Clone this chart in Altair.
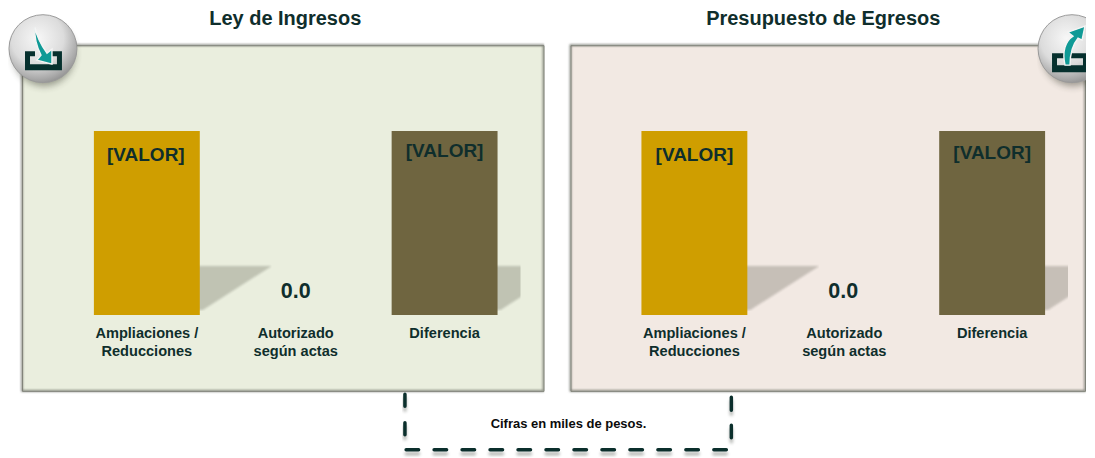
import base64
import altair as alt

categories = ["Ampliaciones / Reducciones", "Autorizado según actas", "Diferencia"]
axis_lines = ["Ampliaciones /|Reducciones", "Autorizado|según actas", "Diferencia"]
bar_values = [100, 0, 100]
value_labels = ["[VALOR]", "0.0", "[VALOR]"]
bar_colors = ["#CF9E00", "#CF9E00", "#6F6540"]
panel_titles = ["Ley de Ingresos", "Presupuesto de Egresos"]
footnote = "Cifras en miles de pesos."

INK = "#0F2E2C"
FONT = "Liberation Sans"
H = 346
Y_SCALE = alt.Scale(domain=[-41.3, 146.7], nice=False, zero=False)


def uri(svg):
    return "data:image/svg+xml;base64," + base64.b64encode(svg.encode()).decode()


def medallion(up, crop_w=90):
    if up:
        arrow = "M28 57 C25 44 28 33 36 28 L31 24 L48 18 L45 32 L41 30 C36 36 33 45 33 57 Z"
        tray = '<path d="M15 45 H51 V64 H15 Z M20 50 V57 H46 V50 Z" fill-rule="evenodd" fill="#06302E"/>'
    else:
        arrow = "M27 19 C26 30 29 39 33 47 L29 52 L44 56 L44 41 L39 45 C34 38 29 30 27 19 Z"
        tray = '<path d="M17 43 H27 V48 H22 V56 H49 V48 H44 V43 H54 V62 H17 Z" fill="#06302E"/>'
    return uri(f'''<svg xmlns="http://www.w3.org/2000/svg" width="{crop_w}" height="90" viewBox="0 0 {crop_w} 90">
<defs><radialGradient id="g" cx="0.42" cy="0.35" r="0.7"><stop offset="0" stop-color="#f7f7f7"/>
<stop offset="0.55" stop-color="#dcdcdc"/><stop offset="0.85" stop-color="#a9a9a9"/><stop offset="1" stop-color="#8c8c8c"/></radialGradient>
<filter id="b" x="-30%" y="-30%" width="160%" height="160%"><feGaussianBlur stdDeviation="3.5"/></filter></defs>
<ellipse cx="36" cy="46" rx="31" ry="32" fill="#34382c" opacity="0.45" filter="url(#b)"/>
<circle cx="35" cy="40.5" r="34" fill="url(#g)" stroke="#9a9a9a" stroke-width="1"/>
{tray}
<path d="{arrow}" fill="#109A96" stroke="#f4f4f4" stroke-width="1.4"/></svg>''')


def shadow(crop_w):
    return uri(f'''<svg xmlns="http://www.w3.org/2000/svg" width="{crop_w}" height="47" viewBox="0 0 {crop_w} 47">
<defs><filter id="b"><feGaussianBlur stdDeviation="0.8"/></filter></defs>
<path d="M-4 2 H74 L5 46 H-4 Z" fill="#1e1e10" opacity="0.2" filter="url(#b)"/></svg>''')


def frame_shadow(w):
    return uri(f'''<svg xmlns="http://www.w3.org/2000/svg" width="{w+5}" height="{H+8}" viewBox="0 0 {w+5} {H+8}">
<defs><filter id="b"><feGaussianBlur stdDeviation="0.8"/></filter></defs>
<rect x="4" y="4" width="{w}" height="{H}" fill="none" stroke="#75776e" stroke-width="1.6" filter="url(#b)"/></svg>''')


def bracket():
    rules = ('<path d="M3.3 3.5 V15.5 M3.3 32 V44" />'
             '<path d="M330 6.5 V19.5 M330 34.5 V47" />'
             '<path d="M4.5 59 H329" stroke-dasharray="12.5 15.5" />')
    return uri(f'''<svg xmlns="http://www.w3.org/2000/svg" width="340" height="67" viewBox="0 0 340 67">
<defs><filter id="b"><feGaussianBlur stdDeviation="1.5"/></filter></defs>
<g transform="translate(0,4)" fill="none" stroke="#60665f" stroke-width="3.5" opacity="0.45" filter="url(#b)" stroke-linecap="round">{rules}</g>
<g fill="none" stroke="#0B2F2C" stroke-width="3.5" stroke-linecap="round">{rules}</g></svg>''')


blank = alt.Data(values=[{"k": 0}])


def picture(url, x, y, w, h):
    return alt.Chart(blank).mark_image(url=url, width=w, height=h, align="left",
                                       baseline="top", aspect=False).encode(
        x=alt.value(x), y=alt.value(y))


def panel(title, title_x, fill, width, outer, align, bar_left, value_dys, value_dxs, label_dxs, extras):
    rows = [{"cat": c, "val": v, "lab": l, "txt": t, "col": k, "base": 0}
            for c, v, l, t, k in zip(categories, bar_values, value_labels, axis_lines, bar_colors)]
    data = alt.Data(values=rows)
    x = alt.X("cat:N", sort=categories, axis=None,
              scale=alt.Scale(paddingInner=0.289, paddingOuter=outer, align=align))
    y = alt.Y("val:Q", axis=None, scale=Y_SCALE)
    base = alt.Chart(data).encode(x=x)
    bars = base.transform_filter("datum.val > 0").mark_bar(size=106).encode(
        y=y, y2=alt.datum(0), color=alt.Color("col:N", scale=None))
    layers = [picture(frame_shadow(width), -4, -4, width + 5, H + 8),
              picture(shadow(74), bar_left + 104, 219, 74, 47),
              picture(shadow(25), bar_left + 402, 219, 25, 47),
              bars]
    for cat, dy, dx, lab_dx in zip(categories, value_dys, value_dxs, label_dxs):
        one = base.transform_filter(alt.datum.cat == cat)
        size = 21.5 if cat == categories[1] else 19
        layers.append(one.mark_text(font=FONT, fontWeight="bold", fontSize=size, color=INK,
                                    dy=dy, dx=dx, baseline="middle").encode(
            y=alt.Y("base:Q", axis=None, scale=Y_SCALE), text="lab:N"))
        layers.append(one.mark_text(font=FONT, fontWeight="bold", fontSize=14.6, color=INK,
                                    lineBreak="|", lineHeight=18, dy=19, dx=lab_dx,
                                    baseline="middle", align="center").encode(
            y=alt.Y("base:Q", axis=None, scale=Y_SCALE), text="txt:N"))
    head = alt.Chart(alt.Data(values=[{"t": title}])).mark_text(
        font=FONT, fontWeight="bold", fontSize=20, color=INK, baseline="middle", align="center"
    ).encode(x=alt.value(title_x), y=alt.value(-26), text="t:N")
    layers.append(head)
    layers.extend(extras)
    return alt.layer(*layers).properties(
        width=width, height=H,
        view=alt.ViewConfig(fill=fill, stroke="#8C8E84", strokeWidth=1))


note = alt.Chart(alt.Data(values=[{"t": footnote}])).mark_text(
    font=FONT, fontWeight="bold", fontSize=13, color="#0b0b0b", baseline="middle", align="center"
).encode(x=alt.value(547), y=alt.value(379), text="t:N")

left = panel(panel_titles[0], 263.5, "#EAEEDE", 522, 0.396, 0.61, 72,
             [-160, -23, -164], [-1, 0, 0], [0, 0, 0],
             [picture(bracket(), 380, 346, 340, 67), note,
              picture(medallion(False), -14, -37, 90, 90)])
right = panel(panel_titles[1], 253, "#F2E9E3", 515, 0.3725, 0.64, 71,
              [-160, -23, -162], [0, 0, 0], [0, 1, 0],
              [picture(medallion(True, 49), 467, -37, 49, 90)])

chart = alt.hconcat(left, right, spacing=27, bounds="flush").properties(
    padding={"left": -1, "right": 0, "top": -1, "bottom": 0}, background="white"
)

chart.save("out.html", embed_options={"renderer": "svg", "actions": False})
